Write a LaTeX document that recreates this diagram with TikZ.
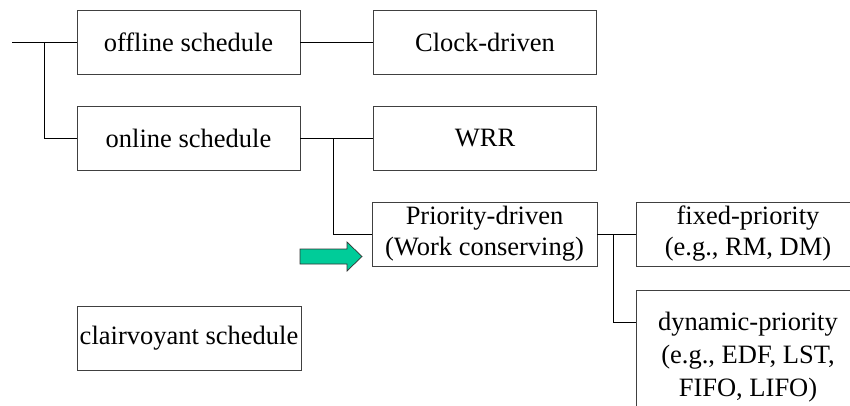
\documentclass[tikz,border=0pt]{standalone}
\usepackage{fontspec}
\setmainfont{Liberation Serif}
\newfontfamily\tnr{Liberation Serif}
\begin{document}
\begin{tikzpicture}[x=1pt,y=-1pt,
  box/.style={draw=black!75,line width=0.9pt,minimum width=223pt,minimum height=64pt,
    inner sep=0pt,align=center,font=\tnr\fontsize{26.5}{31}\selectfont},
  conn/.style={draw=black,line width=0.9pt}]
\useasboundingbox (0,0) rectangle (850,405);
\clip (0,0) rectangle (850,405);
\node[box] (offline) at (188.5,42) {offline schedule};
\node[box] (clock) at (485,42) {Clock-driven};
\node[box] (online) at (188.5,138) {online schedule};
\node[box] (wrr) at (485,138) {WRR};
\node[box,minimum width=225pt] (prio) at (484.5,234) {Priority-driven\\(Work conserving)};
\node[box,minimum width=224pt] (fixed) at (748,234) {fixed-priority\\(e.g., RM, DM)};
\node[box,minimum width=224pt,minimum height=134pt,font=\tnr\fontsize{26.5}{33}\selectfont] (dyn) at (748,357) {dynamic-priority\\(e.g., EDF, LST,\\FIFO, LIFO)};
\node[box,minimum width=224pt] (clair) at (189,338) {clairvoyant schedule};
\coordinate (c0) at (12,42);
\coordinate (j1) at (44,42);
\coordinate (j2) at (333,138);
\coordinate (j3) at (613,234);
\draw[conn] (c0) -- (offline.west);
\draw[conn] (j1) |- (online.west);
\draw[conn] (offline.east) -- (clock.west);
\draw[conn] (online.east) -- (wrr.west);
\draw[conn] (j2) |- (prio.west);
\draw[conn] (prio.east) -- (fixed.west);
\draw[conn] (j3) |- (dyn.west |- 0,322);
\draw[fill={rgb,255:red,0;green,204;blue,153},draw=black!80,line width=0.7pt]
  (300,249) -- (347,249) -- (347,242) -- (362,256.5) -- (347,271) -- (347,264) -- (300,264) -- cycle;
\end{tikzpicture}
\end{document}
